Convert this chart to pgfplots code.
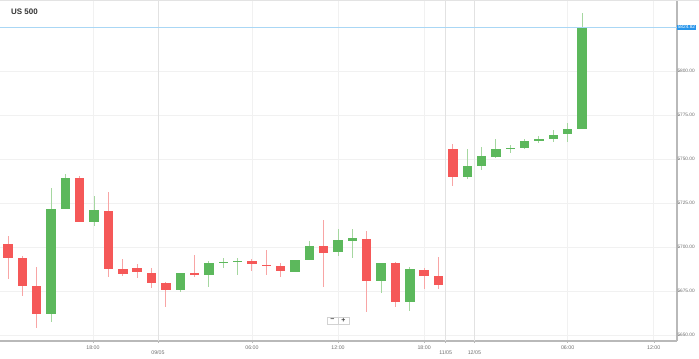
\documentclass[border=0pt]{standalone}
\usepackage{fontspec}
\setmainfont{Liberation Sans}
\usepackage{pgfplots}
\pgfplotsset{compat=1.18}
\usepackage{pgfplotstable}
\definecolor{cgreen}{RGB}{92,184,92}
\definecolor{cred}{RGB}{245,88,88}
\definecolor{wgreen}{RGB}{165,215,160}
\definecolor{wred}{RGB}{248,165,165}
\definecolor{gridc}{RGB}{241,241,241}
\definecolor{dayc}{RGB}{226,226,226}
\definecolor{axc}{RGB}{185,185,185}
\definecolor{lblc}{RGB}{110,110,110}
\definecolor{pline}{RGB}{170,215,245}
\definecolor{pbox}{RGB}{40,150,235}

% green (rising) candles: index, open, high, low, close
\pgfplotstableread{
i o h l c
3 5662.3 5733.5 5657.2 5721.6
4 5721.4 5741.3 5721.4 5739.2
6 5714.0 5729.0 5711.9 5721.0
12 5675.6 5685.5 5674.3 5685.1
14 5684.1 5692.0 5677.1 5690.9
15 5690.9 5693.6 5688.2 5691.6
16 5691.5 5693.6 5684.3 5692.4
20 5686.0 5692.8 5685.8 5692.6
21 5693.0 5703.4 5692.8 5700.7
23 5697.0 5710.2 5695.1 5703.8
24 5703.6 5710.6 5693.6 5705.3
26 5680.5 5691.3 5674.0 5691.1
28 5668.6 5688.8 5663.8 5687.3
32 5739.8 5755.9 5738.8 5745.9
33 5745.9 5756.8 5743.8 5751.7
34 5751.3 5761.2 5750.7 5755.9
35 5755.7 5757.8 5753.2 5756.6
36 5756.4 5761.2 5755.9 5760.2
37 5760.1 5762.9 5759.3 5761.2
38 5761.4 5766.5 5759.8 5764.0
39 5764.0 5770.6 5759.8 5766.9
40 5767.4 5833.1 5767.2 5824.82
}\greendata

% red (falling) candles: index, open, high, low, close
\pgfplotstableread{
i o h l c
0 5701.5 5706.3 5682.2 5693.6
1 5693.9 5695.1 5672.2 5677.7
2 5678.0 5688.5 5653.8 5662.3
5 5739.2 5740.5 5714.2 5714.2
7 5720.8 5731.6 5683.1 5687.5
8 5687.3 5693.2 5683.7 5684.5
9 5688.5 5690.2 5682.2 5686.0
10 5685.6 5687.9 5676.9 5679.7
11 5679.4 5680.0 5665.9 5675.6
13 5685.2 5695.6 5683.1 5684.1
17 5692.4 5693.4 5686.5 5690.3
18 5689.9 5698.5 5684.1 5689.2
19 5689.4 5691.1 5683.1 5686.4
22 5700.4 5715.5 5677.4 5696.8
25 5704.9 5708.9 5663.2 5680.7
27 5690.7 5691.6 5666.1 5668.9
29 5687.1 5687.9 5676.1 5683.7
30 5683.7 5694.3 5676.5 5678.4
31 5755.5 5758.5 5734.8 5739.6
}\reddata

\begin{document}
\begin{tikzpicture}
\begin{axis}[
  name=ax,
  scale only axis, width=677bp, height=340bp,
  xmin=-0.5575, xmax=46.62, ymin=5646.59, ymax=5839.77,
  clip=false,
  axis x line*=bottom, axis y line*=right,
  axis line style={-, axc, line width=1.2bp},
  x axis line style={line width=2bp},
  ytick={5650,5675,...,5800},
  yticklabel style={font=\fontsize{4.8}{5}\selectfont, text=lblc, anchor=west, xshift=-2.2bp, inner xsep=0.5bp,
    /pgf/number format/.cd, fixed, fixed zerofill, precision=2, 1000 sep={}, assume math mode=true},
  xtick={5.92,17,23,29,39,45},
  xticklabels={18:00,06:00,12:00,18:00,06:00,12:00},
  xticklabel style={font=\fontsize{5.3}{6}\selectfont, text=lblc, yshift=1bp},
  extra x ticks={10.45,30.5,32.5},
  extra x tick labels={09/05,11/05,12/05},
  extra x tick style={xticklabel style={yshift=-5bp}, major grid style={dayc, line width=0.9bp}},
  grid=major,
  major grid style={gridc, line width=0.7bp},
  tick style={axc, line width=0.5bp},
  major tick length=2bp,
  tick align=outside,
]
% wicks
\addplot[draw=none, no markers, forget plot,
  error bars/.cd, y dir=both, y explicit, error mark=none,
  error bar style={line width=1bp, draw=wgreen}]
  table[x=i, y expr={(\thisrow{h}+\thisrow{l})/2}, y error expr={(\thisrow{h}-\thisrow{l})/2}] {\greendata};
\addplot[draw=none, no markers, forget plot,
  error bars/.cd, y dir=both, y explicit, error mark=none,
  error bar style={line width=1bp, draw=wred}]
  table[x=i, y expr={(\thisrow{h}+\thisrow{l})/2}, y error expr={(\thisrow{h}-\thisrow{l})/2}] {\reddata};
% bodies
\addplot[draw=none, no markers, forget plot,
  error bars/.cd, y dir=both, y explicit, error mark=none,
  error bar style={line width=9.4bp, draw=cgreen}]
  table[x=i, y expr={(\thisrow{o}+\thisrow{c})/2}, y error expr={max(abs(\thisrow{c}-\thisrow{o})/2,0.45)}] {\greendata};
\addplot[draw=none, no markers, forget plot,
  error bars/.cd, y dir=both, y explicit, error mark=none,
  error bar style={line width=9.4bp, draw=cred}]
  table[x=i, y expr={(\thisrow{o}+\thisrow{c})/2}, y error expr={max(abs(\thisrow{o}-\thisrow{c})/2,0.45)}] {\reddata};
% current price line
\addplot[pline, line width=1.6bp, forget plot] coordinates {(-0.5575,5824.82) (46.62,5824.82)};
\node[fill=pbox, text=white, anchor=west, inner xsep=0.6bp, inner ysep=0.8bp,
  font=\fontsize{4.8}{5}\selectfont] at (axis cs:46.62,5824.82) {5824.82};
% zoom buttons
\node[draw=gray!35, fill=white, minimum width=11bp, minimum height=7.5bp, inner sep=0pt,
  font=\fontsize{7}{7}\selectfont\bfseries, text=black!75] at (axis cs:22.6,5658.2) {−};
\node[draw=gray!35, fill=white, minimum width=11bp, minimum height=7.5bp, inner sep=0pt,
  font=\fontsize{7}{7}\selectfont\bfseries, text=black!75] at (axis cs:23.37,5658.2) {+};
\end{axis}
\draw[gray!22, line width=0.8bp] ([yshift=0.4bp]ax.north west) -- ([xshift=22bp,yshift=0.4bp]ax.north east);
\node[anchor=west, font=\fontsize{8}{9}\selectfont\bfseries, text=black!80, inner sep=0pt]
  at ([xshift=11bp,yshift=-11bp]ax.north west) {US 500};
\pgfresetboundingbox
\path[use as bounding box] ([yshift=-18bp]ax.south west) rectangle ([xshift=22bp,yshift=1bp]ax.north east);
\end{tikzpicture}
\end{document}
